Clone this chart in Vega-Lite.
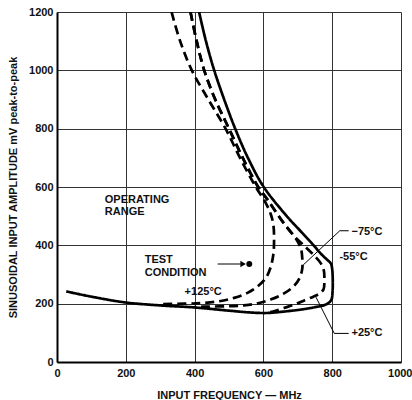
{
  "$schema": "https://vega.github.io/schema/vega-lite/v6.json",
  "width": 344,
  "height": 350,
  "autosize": {"type": "none"},
  "padding": {"left": 57, "top": 12, "right": 11, "bottom": 38},
  "background": "white",
  "config": {
    "view": {"stroke": null},
    "font": "Liberation Sans",
    "axis": {
      "labelFont": "Liberation Sans", "labelFontWeight": "bold", "labelFontSize": 11, "labelColor": "#111",
      "titleFont": "Liberation Sans", "titleFontWeight": "bold", "titleFontSize": 11, "titleColor": "#111",
      "gridColor": "#333", "gridWidth": 1, "gridOpacity": 1,
      "domainColor": "#000", "domainWidth": 2, "ticks": false, "format": "d"
    }
  },
  "datasets": {
    "curves": [
      {"s": "-55", "o": 1, "f": 413, "a": 1200},
      {"s": "-55", "o": 2, "f": 433, "a": 1100},
      {"s": "-55", "o": 3, "f": 457, "a": 1000},
      {"s": "-55", "o": 4, "f": 486, "a": 900},
      {"s": "-55", "o": 5, "f": 518, "a": 800},
      {"s": "-55", "o": 6, "f": 555, "a": 700},
      {"s": "-55", "o": 7, "f": 601, "a": 600},
      {"s": "-55", "o": 8, "f": 668, "a": 500},
      {"s": "-55", "o": 9, "f": 707, "a": 450},
      {"s": "-55", "o": 10, "f": 746, "a": 400},
      {"s": "-55", "o": 11, "f": 768, "a": 370},
      {"s": "-55", "o": 12, "f": 786, "a": 350},
      {"s": "-55", "o": 13, "f": 796, "a": 338},
      {"s": "-55", "o": 14, "f": 800, "a": 318},
      {"s": "-55", "o": 15, "f": 801, "a": 240},
      {"s": "-55", "o": 16, "f": 797, "a": 212},
      {"s": "-55", "o": 17, "f": 783, "a": 198},
      {"s": "-55", "o": 18, "f": 750, "a": 188},
      {"s": "-55", "o": 19, "f": 710, "a": 180},
      {"s": "-55", "o": 20, "f": 660, "a": 173},
      {"s": "-55", "o": 21, "f": 610, "a": 168},
      {"s": "-55", "o": 22, "f": 560, "a": 170},
      {"s": "-55", "o": 23, "f": 500, "a": 176},
      {"s": "-55", "o": 24, "f": 400, "a": 187},
      {"s": "-55", "o": 25, "f": 300, "a": 194},
      {"s": "-55", "o": 26, "f": 200, "a": 204},
      {"s": "-55", "o": 27, "f": 100, "a": 224},
      {"s": "-55", "o": 28, "f": 27, "a": 242},

      {"s": "+125", "o": 1, "f": 333, "a": 1200},
      {"s": "+125", "o": 2, "f": 358, "a": 1100},
      {"s": "+125", "o": 3, "f": 392, "a": 1000},
      {"s": "+125", "o": 4, "f": 440, "a": 900},
      {"s": "+125", "o": 5, "f": 490, "a": 800},
      {"s": "+125", "o": 6, "f": 532, "a": 700},
      {"s": "+125", "o": 7, "f": 578, "a": 600},
      {"s": "+125", "o": 8, "f": 607, "a": 545},
      {"s": "+125", "o": 9, "f": 622, "a": 505},
      {"s": "+125", "o": 10, "f": 629, "a": 470},
      {"s": "+125", "o": 11, "f": 631, "a": 420},
      {"s": "+125", "o": 12, "f": 629, "a": 370},
      {"s": "+125", "o": 13, "f": 621, "a": 325},
      {"s": "+125", "o": 14, "f": 607, "a": 288},
      {"s": "+125", "o": 15, "f": 582, "a": 258},
      {"s": "+125", "o": 16, "f": 554, "a": 237},
      {"s": "+125", "o": 17, "f": 515, "a": 220},
      {"s": "+125", "o": 18, "f": 470, "a": 208},
      {"s": "+125", "o": 19, "f": 420, "a": 202},
      {"s": "+125", "o": 20, "f": 370, "a": 200},
      {"s": "+125", "o": 21, "f": 300, "a": 198},

      {"s": "-75", "o": 1, "f": 388, "a": 1200},
      {"s": "-75", "o": 2, "f": 406, "a": 1100},
      {"s": "-75", "o": 3, "f": 428, "a": 1000},
      {"s": "-75", "o": 4, "f": 460, "a": 900},
      {"s": "-75", "o": 5, "f": 500, "a": 800},
      {"s": "-75", "o": 6, "f": 540, "a": 700},
      {"s": "-75", "o": 7, "f": 585, "a": 600},
      {"s": "-75", "o": 8, "f": 610, "a": 560},
      {"s": "-75", "o": 9, "f": 636, "a": 515},
      {"s": "-75", "o": 10, "f": 660, "a": 475},
      {"s": "-75", "o": 11, "f": 687, "a": 435},
      {"s": "-75", "o": 12, "f": 700, "a": 412},
      {"s": "-75", "o": 13, "f": 709, "a": 390},
      {"s": "-75", "o": 14, "f": 713, "a": 355},
      {"s": "-75", "o": 15, "f": 713, "a": 320},
      {"s": "-75", "o": 16, "f": 706, "a": 290},
      {"s": "-75", "o": 17, "f": 690, "a": 262},
      {"s": "-75", "o": 18, "f": 660, "a": 235},
      {"s": "-75", "o": 19, "f": 621, "a": 214},
      {"s": "-75", "o": 20, "f": 580, "a": 200},
      {"s": "-75", "o": 21, "f": 540, "a": 194},
      {"s": "-75", "o": 22, "f": 496, "a": 191},
      {"s": "-75", "o": 23, "f": 440, "a": 190},
      {"s": "-75", "o": 24, "f": 400, "a": 189},

      {"s": "+25", "o": 1, "f": 388, "a": 1200},
      {"s": "+25", "o": 2, "f": 406, "a": 1100},
      {"s": "+25", "o": 3, "f": 428, "a": 1000},
      {"s": "+25", "o": 4, "f": 460, "a": 900},
      {"s": "+25", "o": 5, "f": 500, "a": 800},
      {"s": "+25", "o": 6, "f": 540, "a": 700},
      {"s": "+25", "o": 7, "f": 585, "a": 600},
      {"s": "+25", "o": 8, "f": 610, "a": 560},
      {"s": "+25", "o": 9, "f": 636, "a": 515},
      {"s": "+25", "o": 10, "f": 660, "a": 475},
      {"s": "+25", "o": 11, "f": 687, "a": 435},
      {"s": "+25", "o": 12, "f": 720, "a": 397},
      {"s": "+25", "o": 13, "f": 746, "a": 367},
      {"s": "+25", "o": 14, "f": 767, "a": 338},
      {"s": "+25", "o": 15, "f": 776, "a": 312},
      {"s": "+25", "o": 16, "f": 777, "a": 280},
      {"s": "+25", "o": 17, "f": 775, "a": 250},
      {"s": "+25", "o": 18, "f": 762, "a": 234},
      {"s": "+25", "o": 19, "f": 745, "a": 224},
      {"s": "+25", "o": 20, "f": 720, "a": 212},
      {"s": "+25", "o": 21, "f": 695, "a": 199},
      {"s": "+25", "o": 22, "f": 660, "a": 185},
      {"s": "+25", "o": 23, "f": 628, "a": 173},
      {"s": "+25", "o": 24, "f": 605, "a": 168}
    ],
    "leaders": [
      {"s": "l75", "o": 1, "f": 848, "a": 450},
      {"s": "l75", "o": 2, "f": 822, "a": 450},
      {"s": "l75", "o": 3, "f": 716, "a": 333},
      {"s": "l25", "o": 1, "f": 848, "a": 98},
      {"s": "l25", "o": 2, "f": 806, "a": 98},
      {"s": "l25", "o": 3, "f": 753, "a": 222}
    ],
    "labels": [
      {"f": 139, "a": 555, "t": "OPERATING"},
      {"f": 139, "a": 513, "t": "RANGE"},
      {"f": 255, "a": 350, "t": "TEST"},
      {"f": 255, "a": 304, "t": "CONDITION"},
      {"f": 371, "a": 240, "t": "+125°C"},
      {"f": 856, "a": 447, "t": "−75°C"},
      {"f": 821, "a": 361, "t": "-55°C"},
      {"f": 856, "a": 98, "t": "+25°C"}
    ],
    "arrow": [{"f": 467, "f2": 545, "a": 336}],
    "head": [{"f": 541, "a": 336}],
    "dot": [{"f": 559, "a": 336}]
  },
  "encoding": {
    "x": {
      "field": "f", "type": "quantitative",
      "scale": {"domain": [0, 1000], "nice": false, "zero": false},
      "axis": {"values": [0, 200, 400, 600, 800, 1000], "title": "INPUT FREQUENCY — MHz", "labelPadding": 5, "titleY": 33, "titleBaseline": "middle", "labelBound": false, "labelFlush": false,
        "labelAlign": {"expr": "datum.value == 1000 ? 'right' : 'center'"},
        "labelOffset": {"expr": "datum.value == 1000 ? 11 : 0"}}
    },
    "y": {
      "field": "a", "type": "quantitative",
      "scale": {"domain": [0, 1200], "nice": false, "zero": false},
      "axis": {"values": [0, 200, 400, 600, 800, 1000, 1200], "title": "SINUSOIDAL INPUT AMPLITUDE mV peak-to-peak", "labelPadding": 4, "titleX": -44, "titleY": 175, "titleAlign": "center", "titleBaseline": "middle", "titleAngle": -90, "labelFlush": false}
    }
  },
  "layer": [
    {
      "data": {"name": "curves"},
      "mark": {"type": "line", "interpolate": "catmull-rom", "color": "#000", "strokeWidth": 2.7, "clip": true},
      "encoding": {
        "order": {"field": "o", "type": "quantitative"},
        "detail": {"field": "s", "type": "nominal"},
        "strokeDash": {
          "field": "s", "type": "nominal", "legend": null,
          "scale": {"domain": ["-55", "+125", "-75", "+25"], "range": [[1, 0], [9, 5], [9, 5], [9, 5]]}
        }
      }
    },
    {
      "data": {"name": "leaders"},
      "mark": {"type": "line", "color": "#000", "strokeWidth": 1},
      "encoding": {
        "order": {"field": "o", "type": "quantitative"},
        "detail": {"field": "s", "type": "nominal"}
      }
    },
    {
      "data": {"name": "arrow"},
      "mark": {"type": "rule", "color": "#000", "strokeWidth": 1},
      "encoding": {"x2": {"field": "f2"}}
    },
    {
      "data": {"name": "head"},
      "mark": {"type": "point", "shape": "triangle-right", "filled": true, "color": "#000", "size": 40, "opacity": 1}
    },
    {
      "data": {"name": "dot"},
      "mark": {"type": "point", "shape": "circle", "filled": true, "color": "#000", "size": 35, "opacity": 1}
    },
    {
      "data": {"name": "labels"},
      "mark": {"type": "text", "align": "left", "baseline": "middle", "font": "Liberation Sans", "fontWeight": "bold", "fontSize": 11, "color": "#111"},
      "encoding": {"text": {"field": "t"}}
    }
  ]
}
